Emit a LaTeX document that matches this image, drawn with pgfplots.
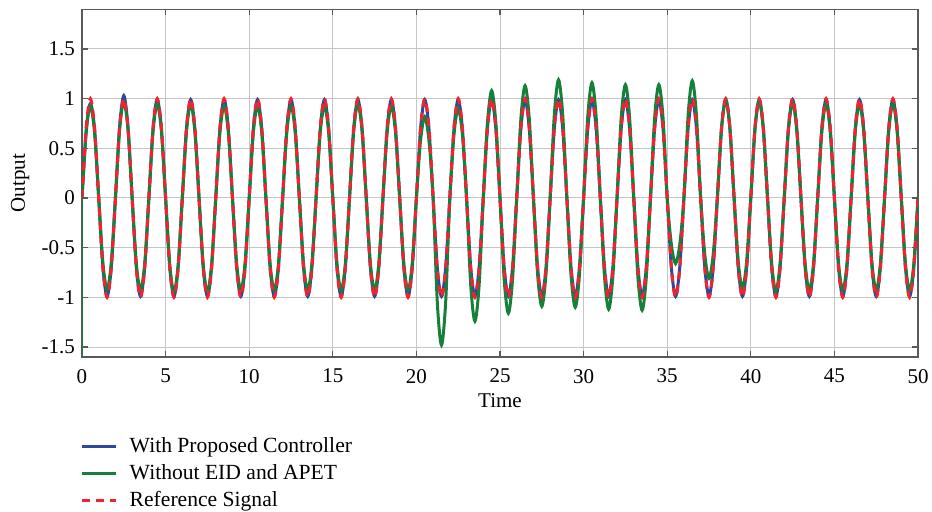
\documentclass[border=0pt]{standalone}
\usepackage{pgfplots}
\usepackage{pgfplotstable}
\usepackage{fontspec}
\setmainfont{Liberation Serif}
\pgfplotsset{compat=1.18}

\definecolor{cblue}{RGB}{46,72,160}
\definecolor{cgreen}{RGB}{22,128,58}
\definecolor{cred}{RGB}{238,36,46}

% t, reference, proposed controller, without EID/APET
\pgfplotstableread{
t ref blue green
0 0 0 0
0.25 0.707 0.68 0.66
0.5 1 0.95 0.93
0.75 0.707 0.70 0.66
1 0 0 0
1.25 -0.707 -0.70 -0.65
1.5 -1 -0.99 -0.92
1.75 -0.707 -0.70 -0.65
2 0 0 0
2.25 0.707 0.72 0.69
2.5 1 1.03 0.97
2.75 0.707 0.72 0.69
3 0 0 0
3.25 -0.707 -0.70 -0.66
3.5 -1 -0.99 -0.93
3.75 -0.707 -0.70 -0.66
4 0 0 0
4.25 0.707 0.70 0.67
4.5 1 0.99 0.95
4.75 0.707 0.70 0.67
5 0 0 0
5.25 -0.707 -0.70 -0.67
5.5 -1 -0.99 -0.95
5.75 -0.707 -0.70 -0.67
6 0 0 0
6.25 0.707 0.70 0.67
6.5 1 0.99 0.95
6.75 0.707 0.70 0.67
7 0 0 0
7.25 -0.707 -0.70 -0.67
7.5 -1 -0.99 -0.95
7.75 -0.707 -0.70 -0.67
8 0 0 0
8.25 0.707 0.70 0.66
8.5 1 0.99 0.93
8.75 0.707 0.70 0.66
9 0 0 0
9.25 -0.707 -0.70 -0.66
9.5 -1 -0.99 -0.93
9.75 -0.707 -0.70 -0.66
10 0 0 0
10.25 0.707 0.70 0.66
10.5 1 0.99 0.93
10.75 0.707 0.70 0.66
11 0 0 0
11.25 -0.707 -0.70 -0.66
11.5 -1 -0.99 -0.93
11.75 -0.707 -0.70 -0.66
12 0 0 0
12.25 0.707 0.70 0.66
12.5 1 0.99 0.93
12.75 0.707 0.70 0.66
13 0 0 0
13.25 -0.707 -0.70 -0.66
13.5 -1 -0.99 -0.93
13.75 -0.707 -0.70 -0.66
14 0 0 0
14.25 0.707 0.70 0.66
14.5 1 0.99 0.93
14.75 0.707 0.70 0.66
15 0 0 0
15.25 -0.707 -0.70 -0.66
15.5 -1 -0.99 -0.93
15.75 -0.707 -0.70 -0.66
16 0 0 0
16.25 0.707 0.70 0.67
16.5 1 0.99 0.95
16.75 0.707 0.70 0.67
17 0 0 0
17.25 -0.707 -0.70 -0.66
17.5 -1 -0.99 -0.93
17.75 -0.707 -0.70 -0.66
18 0 0 0
18.25 0.707 0.70 0.66
18.5 1 0.99 0.93
18.75 0.707 0.70 0.66
19 0 0 0
19.25 -0.707 -0.70 -0.66
19.5 -1 -0.99 -0.93
19.75 -0.707 -0.70 -0.66
20 0 0 0
20.25 0.707 0.70 0.58
20.5 1 0.99 0.82
20.75 0.707 0.70 0.58
21 0 0 0
21.25 -0.707 -0.70 -1.05
21.5 -1 -0.99 -1.48
21.75 -0.707 -0.70 -1.05
22 0 0 0
22.25 0.707 0.70 0.64
22.5 1 0.99 0.90
22.75 0.707 0.70 0.64
23 0 0 0
23.25 -0.707 -0.70 -0.88
23.5 -1 -0.99 -1.24
23.75 -0.707 -0.70 -0.88
24 0 0 0
24.25 0.707 0.70 0.76
24.5 1 0.99 1.08
24.75 0.707 0.70 0.76
25 0 0 0
25.25 -0.707 -0.70 -0.82
25.5 -1 -0.99 -1.16
25.75 -0.707 -0.70 -0.82
26 0 0 0
26.25 0.707 0.70 0.80
26.5 1 0.99 1.13
26.75 0.707 0.70 0.80
27 0 0 0
27.25 -0.707 -0.70 -0.77
27.5 -1 -0.99 -1.09
27.75 -0.707 -0.70 -0.77
28 0 0 0
28.25 0.707 0.70 0.84
28.5 1 0.99 1.19
28.75 0.707 0.70 0.84
29 0 0 0
29.25 -0.707 -0.70 -0.78
29.5 -1 -0.99 -1.10
29.75 -0.707 -0.70 -0.78
30 0 0 0
30.25 0.707 0.70 0.82
30.5 1 0.99 1.16
30.75 0.707 0.70 0.82
31 0 0 0
31.25 -0.707 -0.70 -0.79
31.5 -1 -0.99 -1.12
31.75 -0.707 -0.70 -0.79
32 0 0 0
32.25 0.707 0.70 0.81
32.5 1 0.99 1.14
32.75 0.707 0.70 0.81
33 0 0 0
33.25 -0.707 -0.70 -0.80
33.5 -1 -0.99 -1.13
33.75 -0.707 -0.70 -0.80
34 0 0 0
34.25 0.707 0.70 0.81
34.5 1 0.99 1.14
34.75 0.707 0.70 0.81
35 0 0 0
35.25 -0.707 -0.70 -0.47
35.5 -1 -0.99 -0.66
35.75 -0.707 -0.70 -0.47
36 0 0 0
36.25 0.707 0.70 0.83
36.5 1 0.99 1.18
36.75 0.707 0.70 0.83
37 0 0 0
37.25 -0.707 -0.70 -0.57
37.5 -1 -0.99 -0.81
37.75 -0.707 -0.70 -0.57
38 0 0 0
38.25 0.707 0.70 0.70
38.5 1 0.99 0.99
38.75 0.707 0.70 0.70
39 0 0 0
39.25 -0.707 -0.70 -0.64
39.5 -1 -0.99 -0.91
39.75 -0.707 -0.70 -0.64
40 0 0 0
40.25 0.707 0.70 0.69
40.5 1 0.99 0.98
40.75 0.707 0.70 0.69
41 0 0 0
41.25 -0.707 -0.70 -0.66
41.5 -1 -0.99 -0.94
41.75 -0.707 -0.70 -0.66
42 0 0 0
42.25 0.707 0.70 0.68
42.5 1 0.99 0.96
42.75 0.707 0.70 0.68
43 0 0 0
43.25 -0.707 -0.70 -0.66
43.5 -1 -0.99 -0.93
43.75 -0.707 -0.70 -0.66
44 0 0 0
44.25 0.707 0.70 0.67
44.5 1 0.99 0.95
44.75 0.707 0.70 0.67
45 0 0 0
45.25 -0.707 -0.70 -0.66
45.5 -1 -0.99 -0.93
45.75 -0.707 -0.70 -0.66
46 0 0 0
46.25 0.707 0.70 0.67
46.5 1 0.99 0.95
46.75 0.707 0.70 0.67
47 0 0 0
47.25 -0.707 -0.70 -0.66
47.5 -1 -0.99 -0.93
47.75 -0.707 -0.70 -0.66
48 0 0 0
48.25 0.707 0.70 0.67
48.5 1 0.99 0.95
48.75 0.707 0.70 0.67
49 0 0 0
49.25 -0.707 -0.70 -0.66
49.5 -1 -0.99 -0.93
49.75 -0.707 -0.70 -0.66
50 0 0 0
}\datatable

\begin{document}
\begin{tikzpicture}
\useasboundingbox (-41pt,-77.5pt) rectangle (425pt,178.5pt);
\begin{axis}[
  scale only axis,
  width=418pt, height=173.9pt,
  xmin=0, xmax=50, ymin=-1.6, ymax=1.9,
  xtick={0,5,...,50},
  ytick={-1.5,-1,-0.5,0,0.5,1,1.5},
  yticklabels={-1.5,-1,-0.5,0,0.5,1,1.5},
  /pgf/number format/assume math mode=true,
  tick label style={font=\fontsize{10.5}{12}\selectfont},
  xticklabel style={yshift=-2.5pt},
  label style={font=\fontsize{10.5}{12}\selectfont},
  xlabel={Time}, ylabel={Output},
  xlabel style={at={(axis description cs:0.5,-0.125)}, anchor=center},
  ylabel style={at={(axis description cs:-0.074,0.5)}, anchor=center},
  grid=major,
  major grid style={gray!45, line width=0.5pt},
  axis line style={black!65, line width=0.6pt},
  tick style={black!65, line width=0.6pt},
  tick align=inside,
  major tick length=3pt,
  legend cell align=left,
  legend style={at={(axis description cs:-0.002,-0.22)}, anchor=north west,
    draw=none, fill=none, font=\fontsize{10.8}{12}\selectfont,
    row sep=0.4pt, inner sep=0pt},
  legend image code/.code={\draw[#1] (0pt,0pt) -- (17pt,0pt); \path (21pt,0pt);},
]
\addplot[cblue, line width=1.5pt, smooth] table[x=t, y=blue] {\datatable};
\addlegendentry{With Proposed Controller}
\addplot[cgreen, line width=1.5pt, smooth] table[x=t, y=green] {\datatable};
\addlegendentry{Without EID and APET}
\addplot[cred, line width=1.5pt, smooth, dash pattern=on 4pt off 3pt] table[x=t, y=ref] {\datatable};
\addlegendentry{Reference Signal}
% initial transient of the green response
\addplot[cgreen, line width=1pt, forget plot] coordinates {(0.03,-1.8) (0.03,0)};
\end{axis}
\end{tikzpicture}
\end{document}
